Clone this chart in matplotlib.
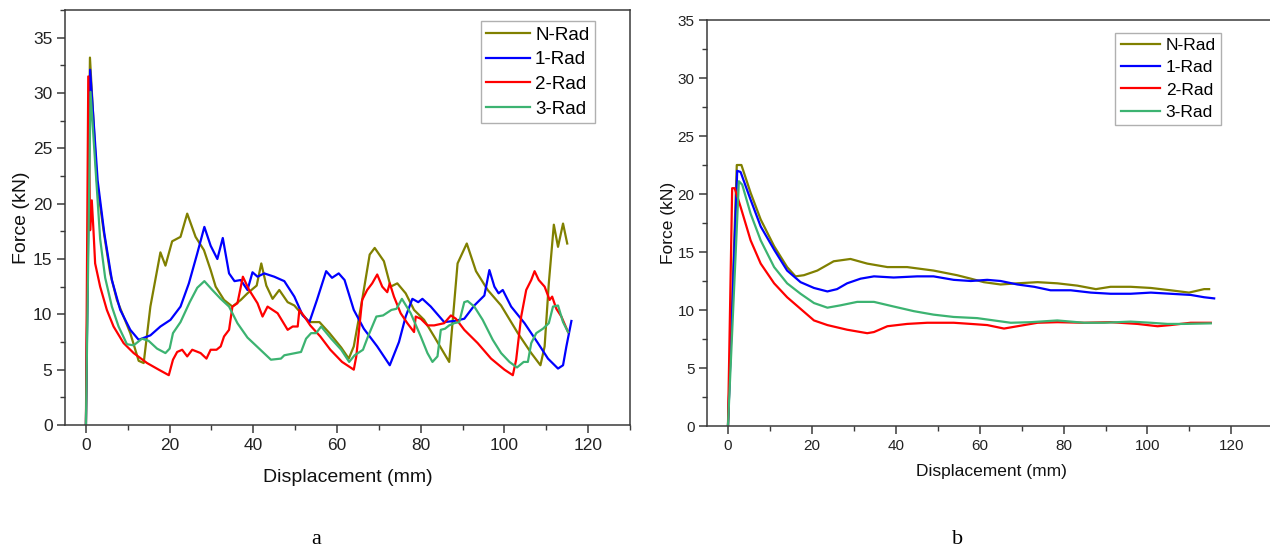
import matplotlib
matplotlib.use('Agg')
import matplotlib.pyplot as plt
from matplotlib.ticker import MultipleLocator

plt.rcParams['font.family'] = ['Liberation Sans', 'DejaVu Sans']

labels = ['N-Rad', '1-Rad', '2-Rad', '3-Rad']
colors = ['#808000', '#0000ff', '#ff0000', '#3cb371']

# panel a: (displacement mm, force kN)
a_nrad = [(0, 0), (0.96, 33.2), (2.6, 22.1), (4.2, 17.6), (5.8, 13.7), (7.4, 11.3),
          (9.0, 9.8), (10.6, 8.3), (11.8, 6.8), (12.6, 5.8), (13.8, 5.6), (15.4, 10.7),
          (17.8, 15.6), (19.0, 14.4), (20.6, 16.6), (22.6, 17.0), (24.2, 19.1),
          (26.2, 17.0), (28.2, 15.8), (29.8, 14.0), (31.0, 12.5), (33.0, 11.3),
          (35.0, 10.7), (37.0, 11.3), (38.6, 11.9), (40.8, 12.6), (41.9, 14.6),
          (43.1, 12.6), (44.6, 11.4), (46.2, 12.2), (48.2, 11.1), (49.8, 10.8),
          (51.4, 10.1), (53.4, 9.3), (55.8, 9.3), (58.2, 8.3), (61.0, 7.0), (62.8, 6.0),
          (64.0, 7.1), (66.0, 11.3), (67.8, 15.4), (69.0, 16.0), (71.2, 14.8),
          (72.8, 12.5), (74.4, 12.8), (76.4, 11.9), (78.4, 10.4), (80.8, 9.5),
          (83.2, 8.0), (86.8, 5.7), (88.8, 14.6), (91.0, 16.4), (93.2, 13.9),
          (96.0, 12.2), (99.2, 10.8), (103.2, 8.3), (106.4, 6.5), (108.6, 5.4),
          (109.6, 7.1), (110.6, 12.8), (111.8, 18.1), (112.8, 16.1), (114.0, 18.2),
          (115.0, 16.4)]
a_1rad = [(0, 0), (1.0, 32.1), (2.8, 22.1), (4.4, 17.3), (6.2, 13.1), (8.2, 10.4),
          (10.6, 8.6), (12.6, 7.7), (15.4, 8.1), (17.8, 8.9), (20.2, 9.5), (22.6, 10.7),
          (24.6, 12.8), (26.6, 15.5), (28.3, 17.9), (29.8, 16.2), (31.4, 15.0),
          (32.7, 16.9), (34.2, 13.7), (35.5, 13.0), (37.0, 13.1), (38.6, 12.2),
          (39.8, 13.8), (41.0, 13.4), (42.6, 13.7), (45.0, 13.4), (47.4, 13.0),
          (49.8, 11.6), (51.8, 9.9), (53.4, 9.3), (55.2, 11.3), (57.4, 13.9),
          (58.8, 13.3), (60.4, 13.7), (61.8, 13.1), (64.0, 10.4), (66.4, 8.7),
          (69.6, 7.1), (72.6, 5.4), (74.8, 7.5), (76.4, 9.8), (78.0, 11.4), (79.4, 11.1),
          (80.4, 11.4), (82.4, 10.7), (85.6, 9.3), (88.0, 9.4), (90.4, 9.6),
          (92.8, 10.8), (95.2, 11.7), (96.4, 14.0), (97.6, 12.5), (98.6, 11.9),
          (99.6, 12.2), (101.6, 10.7), (104.8, 9.2), (108.0, 7.4), (110.4, 6.0),
          (112.8, 5.1), (114.0, 5.4), (114.8, 7.1), (116.0, 9.4)]
a_2rad = [(0, 0), (0.56, 31.5), (1.0, 17.6), (1.4, 20.3), (1.8, 17.6), (2.2, 14.6),
          (3.4, 12.5), (5.0, 10.4), (6.6, 8.9), (9.0, 7.4), (11.4, 6.5), (14.6, 5.6),
          (17.4, 5.0), (19.8, 4.5), (20.8, 5.9), (21.8, 6.6), (23.0, 6.8), (24.2, 6.2),
          (25.4, 6.8), (27.4, 6.5), (28.8, 6.0), (29.8, 6.8), (31.2, 6.8), (32.2, 7.1),
          (33.0, 8.0), (34.2, 8.6), (35.0, 10.7), (36.2, 11.0), (37.5, 13.4),
          (39.0, 12.2), (41.0, 11.0), (42.2, 9.8), (43.4, 10.7), (45.8, 10.1),
          (48.2, 8.6), (49.4, 8.9), (50.6, 8.9), (51.0, 10.4), (52.2, 9.8), (53.6, 9.0),
          (56.0, 8.0), (58.4, 6.8), (61.2, 5.7), (64.0, 5.0), (64.6, 6.2), (66.0, 11.3),
          (67.2, 12.2), (68.4, 12.8), (69.6, 13.6), (70.8, 12.5), (72.0, 12.0),
          (72.6, 12.8), (73.6, 11.6), (75.2, 10.1), (76.8, 9.2), (78.4, 8.4),
          (78.8, 9.8), (80.0, 9.6), (81.6, 9.0), (83.2, 9.0), (85.6, 9.2), (87.2, 9.9),
          (88.4, 9.6), (90.4, 8.6), (93.6, 7.4), (96.8, 6.0), (100.0, 5.0),
          (102.0, 4.5), (102.8, 5.9), (104.0, 9.8), (105.2, 12.2), (106.4, 13.1),
          (107.2, 13.9), (108.2, 13.1), (109.6, 12.5), (110.8, 11.3), (111.4, 11.6),
          (112.4, 10.5), (113.6, 9.8), (115.2, 8.4)]
a_3rad = [(0, 0), (1.1, 30.1), (2.5, 22.0), (3.4, 16.8), (4.6, 13.3), (6.2, 10.7),
          (7.8, 8.9), (9.8, 7.3), (11.4, 7.2), (13.4, 7.8), (15.0, 7.6), (17.0, 6.9),
          (19.0, 6.5), (20.0, 6.9), (20.8, 8.3), (22.6, 9.3), (24.8, 11.1), (26.6, 12.4),
          (28.3, 13.0), (30.2, 12.2), (32.2, 11.4), (34.2, 10.7), (36.2, 9.2),
          (38.6, 7.9), (41.4, 6.9), (44.2, 5.9), (46.6, 6.0), (47.4, 6.3), (51.4, 6.6),
          (52.6, 7.8), (53.8, 8.3), (55.0, 8.3), (56.2, 8.9), (58.6, 7.8), (61.0, 6.8),
          (62.9, 5.7), (64.2, 6.3), (66.2, 6.8), (67.4, 8.0), (69.4, 9.8), (71.0, 9.9),
          (73.0, 10.4), (74.2, 10.5), (75.5, 11.4), (77.6, 10.1), (80.0, 8.0),
          (81.6, 6.5), (82.8, 5.7), (84.0, 6.2), (84.8, 8.6), (85.8, 8.7), (86.8, 9.0),
          (88.0, 9.2), (89.2, 9.3), (90.4, 11.1), (91.2, 11.2), (92.8, 10.7),
          (94.8, 9.5), (97.2, 7.7), (99.2, 6.5), (101.2, 5.7), (103.0, 5.2),
          (104.6, 5.7), (105.6, 5.7), (106.4, 7.4), (107.6, 8.3), (109.2, 8.7),
          (110.6, 9.2), (111.6, 10.7), (112.8, 10.8), (114.0, 9.3), (115.2, 8.4)]

# panel b
b_nrad = [(0, 0), (2.1, 22.5), (3.2, 22.5), (5.4, 20.1), (7.8, 17.8), (11.0, 15.5),
          (14.1, 13.7), (16.1, 12.9), (18.1, 13.0), (21.3, 13.4), (25.2, 14.2),
          (29.2, 14.4), (33.2, 14.0), (38.0, 13.7), (42.7, 13.7), (49.0, 13.4),
          (54.6, 13.0), (57.9, 12.7), (61.0, 12.4), (65.0, 12.2), (69.0, 12.3),
          (73.8, 12.4), (78.5, 12.3), (83.3, 12.1), (87.7, 11.8), (91.2, 12.0),
          (96.0, 12.0), (100.8, 11.9), (105.5, 11.7), (109.9, 11.5), (113.5, 11.8),
          (114.7, 11.8)]
b_1rad = [(0, 0), (2.2, 22.0), (3.0, 21.9), (5.4, 19.5), (7.8, 17.2), (11.0, 15.2),
          (14.1, 13.4), (17.3, 12.4), (20.5, 11.9), (23.7, 11.6), (26.0, 11.8),
          (28.4, 12.3), (31.6, 12.7), (34.8, 12.9), (39.5, 12.8), (45.1, 12.9),
          (49.0, 12.9), (53.8, 12.6), (57.9, 12.5), (61.8, 12.6), (65.0, 12.5),
          (69.0, 12.2), (73.0, 12.0), (76.9, 11.7), (81.7, 11.7), (86.5, 11.5),
          (91.2, 11.4), (96.0, 11.4), (100.8, 11.5), (105.5, 11.4), (110.3, 11.3),
          (113.5, 11.1), (115.9, 11.0)]
b_2rad = [(0, 0), (1.0, 20.5), (1.6, 20.5), (3.0, 18.9), (5.4, 16.0), (7.8, 14.0),
          (11.0, 12.3), (14.1, 11.1), (17.3, 10.1), (20.5, 9.1), (23.7, 8.7),
          (28.4, 8.3), (33.2, 8.0), (34.8, 8.1), (38.0, 8.6), (42.7, 8.8), (47.5, 8.9),
          (53.8, 8.9), (57.9, 8.8), (61.8, 8.7), (65.8, 8.4), (69.0, 8.6), (73.8, 8.9),
          (78.5, 8.95), (84.9, 8.9), (91.2, 8.95), (97.6, 8.8), (102.4, 8.6),
          (105.5, 8.7), (110.3, 8.9), (115.1, 8.9)]
b_3rad = [(0, 0), (2.6, 21.1), (3.4, 20.8), (5.4, 18.3), (7.8, 16.0), (11.0, 13.7),
          (14.1, 12.3), (17.3, 11.4), (20.5, 10.6), (23.7, 10.2), (26.8, 10.4),
          (30.8, 10.7), (34.8, 10.7), (39.5, 10.3), (44.3, 9.9), (49.0, 9.6),
          (53.8, 9.4), (59.4, 9.3), (63.4, 9.1), (67.4, 8.9), (72.2, 8.95), (78.5, 9.1),
          (84.9, 8.9), (89.7, 8.9), (96.0, 9.0), (100.8, 8.9), (104.8, 8.8),
          (108.8, 8.8), (115.1, 8.85)]

W, H = 1270, 551
fig = plt.figure(figsize=(W / 100, H / 100), dpi=100)


def box(l, t, r, b):
    return [l / W, 1 - b / H, (r - l) / W, (b - t) / H]


ax_a = fig.add_axes(box(65, 10, 630, 425))
ax_b = fig.add_axes(box(707, 20, 1275, 426))

spine_c = '#3a3a3a'


def style(ax, tick_fs, label_fs, leg_fs, leg_anchor, ylim, xlim, xpad, ypad):
    ax.set_xlim(*xlim)
    ax.set_ylim(*ylim)
    ax.xaxis.set_major_locator(MultipleLocator(20))
    ax.xaxis.set_minor_locator(MultipleLocator(10))
    ax.yaxis.set_major_locator(MultipleLocator(5))
    ax.yaxis.set_minor_locator(MultipleLocator(2.5))
    ax.tick_params(which='major', direction='out', length=6, width=1.1,
                   color=spine_c, labelsize=tick_fs, labelcolor='#222222', pad=3)
    ax.tick_params(which='minor', direction='out', length=3.5, width=1.0, color=spine_c)
    for s in ax.spines.values():
        s.set_color(spine_c)
        s.set_linewidth(1.1)
    ax.set_xlabel('Displacement (mm)', fontsize=label_fs, color='#111111', labelpad=xpad)
    ax.set_ylabel('Force (kN)', fontsize=label_fs, color='#111111', labelpad=ypad)
    leg = ax.legend(loc='upper right', bbox_to_anchor=leg_anchor,
                    bbox_transform=fig.transFigure, fontsize=leg_fs,
                    frameon=True, fancybox=False, framealpha=1, edgecolor='#b0b0b0',
                    handlelength=2.3, handletextpad=0.3, labelspacing=0.4,
                    borderpad=0.3, borderaxespad=0)
    leg.get_frame().set_linewidth(1.0)


for data, lab, col in zip([a_nrad, a_1rad, a_2rad, a_3rad], labels, colors):
    xs, ys = zip(*data)
    ax_a.plot(xs, ys, color=col, lw=1.6, label=lab)

for data, lab, col in zip([b_nrad, b_1rad, b_2rad, b_3rad], labels, colors):
    xs, ys = zip(*data)
    ax_b.plot(xs, ys, color=col, lw=1.6, label=lab)

style(ax_a, 12.5, 14, 13.5, (595 / W, 1 - 21 / H), (0, 37.5), (-5, 130), 12, 2)
style(ax_b, 11, 12.5, 12.5, (1221 / W, 1 - 33 / H), (0, 35), (-5, 130.4), 8, 1)
ax_b.spines['right'].set_visible(False)

fig.text(316 / W, 1 - 540 / H, 'a', family=['Liberation Serif', 'DejaVu Serif'],
         fontsize=16, ha='center', va='center')
fig.text(958 / W, 1 - 540 / H, 'b', family=['Liberation Serif', 'DejaVu Serif'],
         fontsize=16, ha='center', va='center')

fig.savefig('out.png', dpi=100)
